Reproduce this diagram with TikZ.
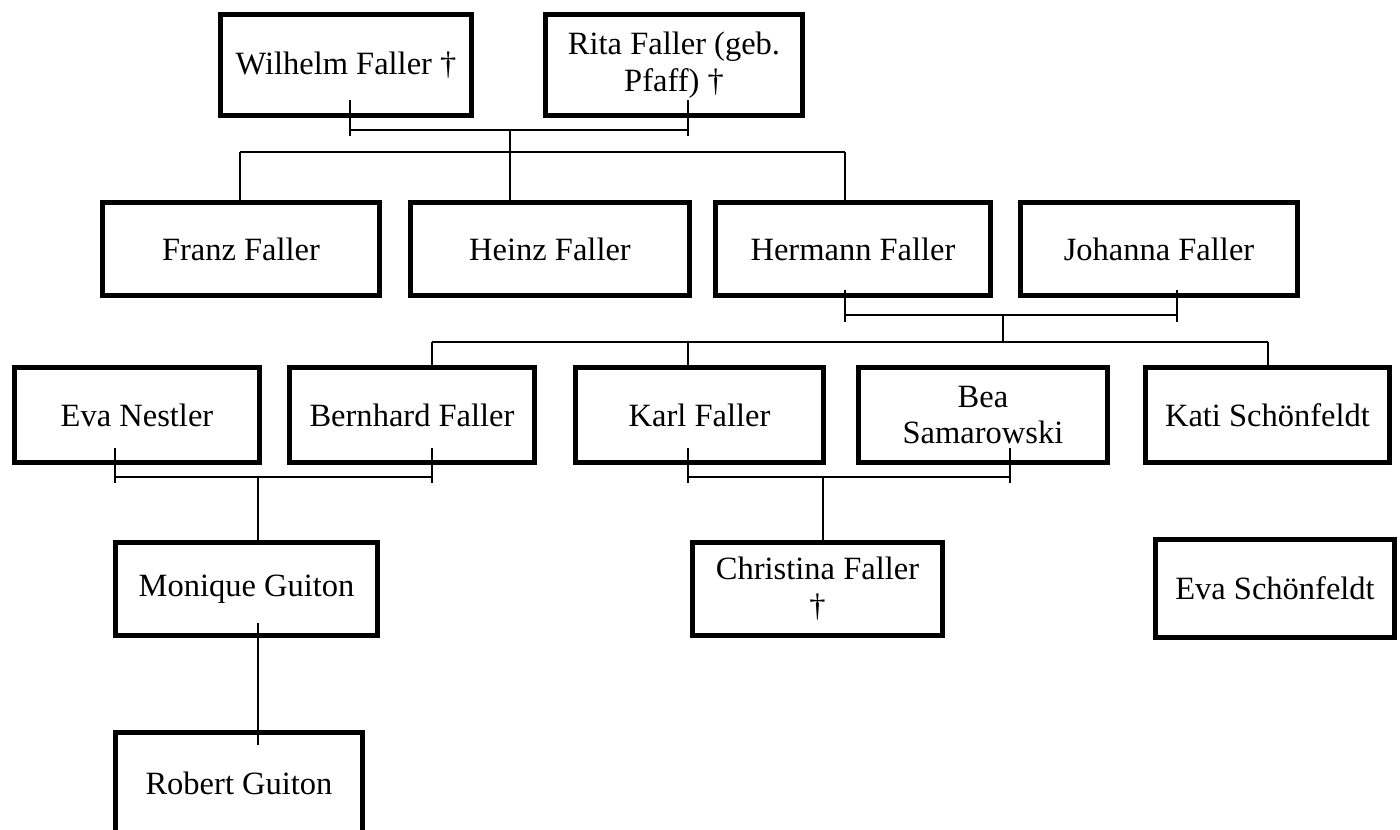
\documentclass[tikz,border=0pt]{standalone}
\usepackage{fontspec}
\setmainfont{Liberation Serif}
\tikzset{
  person/.style={draw, line width=0.1cm, align=center, inner sep=0pt, font=\fontsize{18.5}{21}\selectfont},
  link/.style={line width=0.03cm},
}
\begin{document}
\begin{tikzpicture}[x=0.02cm,y=-0.02cm]
  \useasboundingbox (0,0) rectangle (1400,829);
  \clip (0,0) rectangle (1400,829);

  \node[person, minimum width=5.04cm, minimum height=2.02cm] (wilhelm) at (346,65) {Wilhelm Faller †};
  \node[person, minimum width=5.14cm, minimum height=2.02cm] (rita) at (674,65) {Rita Faller (geb.\\Pfaff) †};

  \node[person, minimum width=5.54cm, minimum height=1.86cm] (franz) at (241,249) {Franz Faller};
  \node[person, minimum width=5.58cm, minimum height=1.86cm] (heinz) at (550,249) {Heinz Faller};
  \node[person, minimum width=5.5cm, minimum height=1.86cm] (hermann) at (853,249) {Hermann Faller};
  \node[person, minimum width=5.54cm, minimum height=1.86cm] (johanna) at (1159,249) {Johanna Faller};

  \node[person, minimum width=4.9cm, minimum height=1.9cm] (evan) at (137,415) {Eva Nestler};
  \node[person, minimum width=4.9cm, minimum height=1.9cm] (bernhard) at (412,415) {Bernhard Faller};
  \node[person, minimum width=4.96cm, minimum height=1.9cm] (karl) at (699.5,415) {Karl Faller};
  \node[person, minimum width=4.98cm, minimum height=1.9cm] (bea) at (983,415) {Bea\\Samarowski};
  \node[person, minimum width=4.88cm, minimum height=1.9cm] (kati) at (1267.5,415) {Kati Schönfeldt};

  \node[person, minimum width=5.24cm, minimum height=1.86cm] (monique) at (246.5,589) {Monique Guiton};
  \node[person, minimum width=5.0cm, minimum height=1.86cm] (christina) at (817.5,589) {Christina Faller\\†};
  \node[person, minimum width=4.8cm, minimum height=1.96cm] (evas) at (1275,588.5) {Eva Schönfeldt};

  \node[person, minimum width=4.94cm, minimum height=2.04cm] (robert) at (239,783) {Robert Guiton};

  \coordinate (wt) at (350,130);
  \coordinate (rt) at (688,130);
  \coordinate (g1) at (510,130);
  \coordinate (g1b) at (510,152);
  \coordinate (f1) at (240,152);
  \coordinate (h1) at (845,152);
  \draw[link] (wt) +(0,-30) -- +(0,6);
  \draw[link] (rt) +(0,-30) -- +(0,6);
  \draw[link] (wt) -- (rt);
  \draw[link] (g1) -- (g1b);
  \draw[link] (f1) -- (h1);
  \draw[link] (f1) -- (franz.north -| f1);
  \draw[link] (g1b) -- (heinz.north -| g1b);
  \draw[link] (h1) -- (hermann.north -| h1);

  \coordinate (ht) at (845,315);
  \coordinate (jt) at (1177,315);
  \coordinate (g2) at (1003,315);
  \coordinate (g2b) at (1003,342);
  \coordinate (b1) at (432,342);
  \coordinate (ka1) at (688,342);
  \coordinate (k1) at (1268,342);
  \draw[link] (ht) +(0,-25) -- +(0,7);
  \draw[link] (jt) +(0,-25) -- +(0,7);
  \draw[link] (ht) -- (jt);
  \draw[link] (g2) -- (g2b);
  \draw[link] (b1) -- (k1);
  \draw[link] (b1) -- (bernhard.north -| b1);
  \draw[link] (ka1) -- (karl.north -| ka1);
  \draw[link] (k1) -- (kati.north -| k1);

  \coordinate (et) at (115,477);
  \coordinate (bt) at (432,477);
  \coordinate (g3) at (258,477);
  \draw[link] (et) +(0,-29) -- +(0,6);
  \draw[link] (bt) +(0,-29) -- +(0,6);
  \draw[link] (et) -- (bt);
  \draw[link] (g3) -- (monique.north -| g3);

  \coordinate (kt) at (688,477);
  \coordinate (bat) at (1010,477);
  \coordinate (g4) at (823,477);
  \draw[link] (kt) +(0,-29) -- +(0,6);
  \draw[link] (bat) +(0,-29) -- +(0,6);
  \draw[link] (kt) -- (bat);
  \draw[link] (g4) -- (christina.north -| g4);

  \coordinate (m1) at (258,623);
  \coordinate (r1) at (258,745);
  \draw[link] (m1) -- (r1);
\end{tikzpicture}
\end{document}
